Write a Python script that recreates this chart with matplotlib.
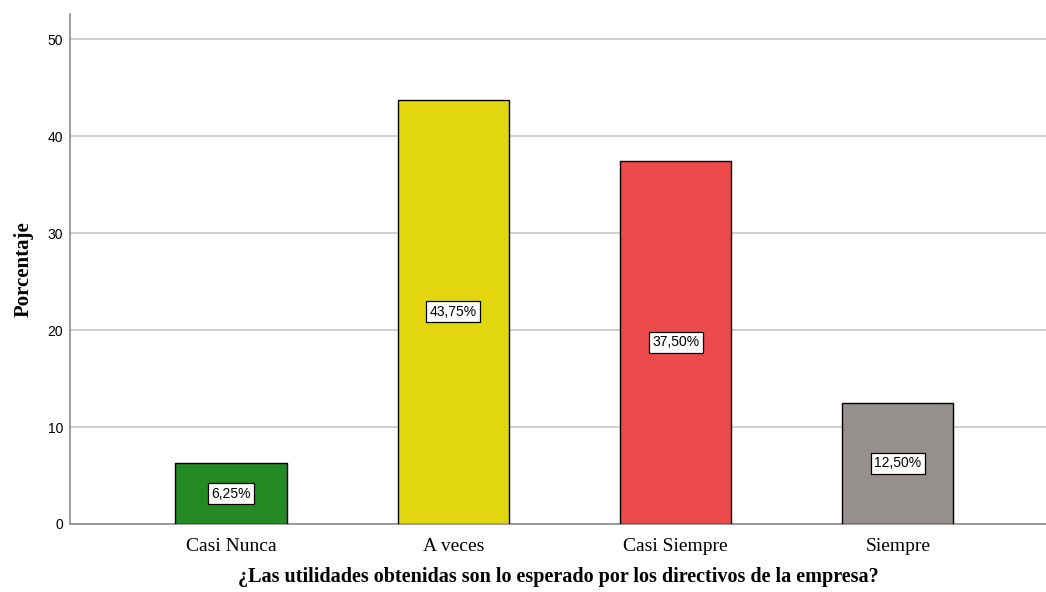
import matplotlib.pyplot as plt

# Datos
categorias = ['Casi Nunca', 'A veces', 'Casi Siempre', 'Siempre']
porcentajes = [6.25, 43.75, 37.50, 12.50]
etiquetas = ['6,25%', '43,75%', '37,50%', '12,50%']
colores = ['#248a24', '#e2d70e', '#ec4a4b', '#958f8e']

fig = plt.figure(figsize=(10.46, 5.92), dpi=100)
ax = fig.add_axes([0.0669, 0.115, 0.933, 0.861])

x = range(len(categorias))
ax.bar(x, porcentajes, width=0.5, color=colores, edgecolor='black', linewidth=1.0, zorder=3)

# Etiquetas dentro de las barras
for xi, v, t in zip(x, porcentajes, etiquetas):
    ax.text(xi, v / 2, t, ha='center', va='center', fontsize=10, family='Liberation Sans',
            bbox=dict(boxstyle='square,pad=0.25', facecolor='white', edgecolor='black', linewidth=0.9),
            zorder=4)

ax.set_xlim(-0.724, 3.666)
ax.set_ylim(0, 52.6)
ax.set_yticks([0, 10, 20, 30, 40, 50])
ax.yaxis.grid(True, color='#c8c8c8', linewidth=1.2, zorder=0)
ax.set_axisbelow(True)

ax.set_xticks(list(x))
ax.set_xticklabels(categorias, family='Liberation Serif', fontsize=14)
for lab in ax.get_yticklabels():
    lab.set_family('Liberation Sans')
    lab.set_fontsize(10)
ax.tick_params(axis='y', length=0, pad=5)
ax.tick_params(axis='x', length=0, pad=10)

for s in ['top', 'right']:
    ax.spines[s].set_visible(False)
ax.spines['left'].set_color('#8c8c8c')
ax.spines['bottom'].set_color('#8c8c8c')
ax.spines['left'].set_linewidth(1.2)
ax.spines['bottom'].set_linewidth(1.2)

ax.set_ylabel('Porcentaje', family='Liberation Serif', fontweight='bold', fontsize=15, labelpad=10)
ax.set_xlabel('¿Las utilidades obtenidas son lo esperado por los directivos de la empresa?',
              family='Liberation Serif', fontweight='bold', fontsize=14.5, labelpad=9)

fig.savefig('out.png', dpi=100)
